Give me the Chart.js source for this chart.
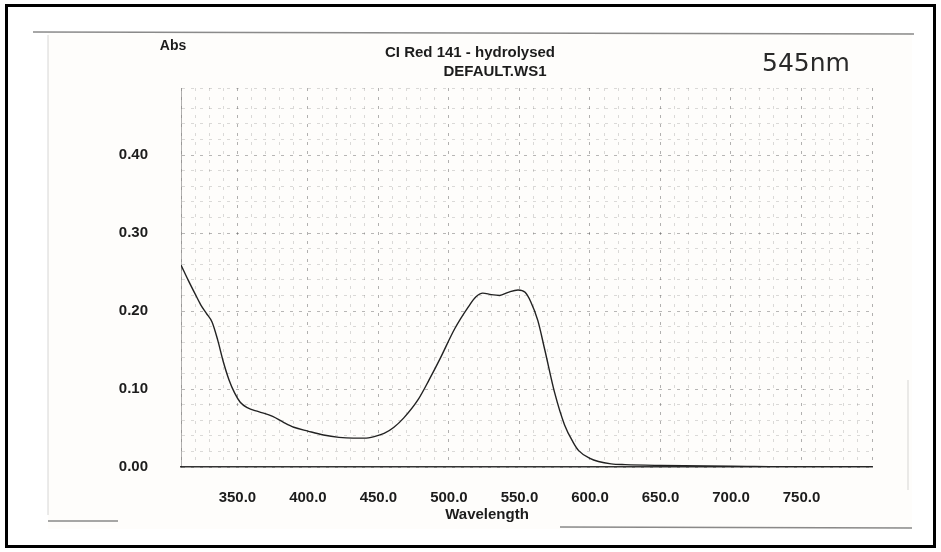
<!DOCTYPE html>
<html lang="en">
<head>
    <meta charset="UTF-8">
    <title>CI Red 141 - hydrolysed</title>
    <script src="https://cdn.jsdelivr.net/npm/chart.js"></script>
    <style>
        body { margin: 0; background: #fff; }
        canvas { display: block; }
    </style>
</head>
<body>
    <canvas id="specChart" width="941" height="552"></canvas>

    <script>
        // Spectrum data
        const wavelengths = [310, 315, 320, 324, 328, 332, 336, 340, 344, 348, 352, 357, 365, 375, 383, 390,
            400, 411, 422, 432, 440, 447, 454, 461, 468, 478, 486, 494, 504, 514, 519, 524, 530, 536, 542,
            549, 554, 558, 563, 568, 575, 582, 588, 592, 600, 606, 615, 625, 650, 700, 750, 800];
        const absorbance = [0.259, 0.240, 0.222, 0.208, 0.197, 0.186, 0.163, 0.135, 0.112, 0.095, 0.083,
            0.076, 0.071, 0.065, 0.057, 0.051, 0.046, 0.041, 0.038, 0.037, 0.037, 0.039, 0.043, 0.051,
            0.063, 0.086, 0.112, 0.140, 0.177, 0.206, 0.218, 0.223, 0.221, 0.220, 0.224, 0.227, 0.224,
            0.212, 0.188, 0.150, 0.095, 0.054, 0.032, 0.021, 0.011, 0.007, 0.004, 0.003, 0.002, 0.001,
            0.000, 0.000];
        const xLabelTicks = [350, 400, 450, 500, 550, 600, 650, 700, 750];
        const yLabelTicks = [0.0, 0.1, 0.2, 0.3, 0.4];

        const points = wavelengths.map((w, i) => ({ x: w, y: absorbance[i] }));

        // paper, scan edges, border and header texts
        const pagePlugin = {
            id: 'page',
            beforeDraw(chart) {
                const ctx = chart.ctx;
                ctx.save();
                ctx.fillStyle = '#ffffff';
                ctx.fillRect(0, 0, 941, 552);
                ctx.fillStyle = '#fefdfb';
                ctx.fillRect(48, 33, 864, 496);
                ctx.strokeStyle = 'rgba(60,60,60,0.6)';
                ctx.lineWidth = 1.5;
                ctx.beginPath();
                ctx.moveTo(33, 32); ctx.lineTo(914, 34);
                ctx.moveTo(48, 521); ctx.lineTo(118, 521);
                ctx.moveTo(560, 527); ctx.lineTo(912, 528);
                ctx.stroke();
                ctx.strokeStyle = 'rgba(120,120,120,0.3)';
                ctx.lineWidth = 1;
                ctx.beginPath();
                ctx.moveTo(48, 35); ctx.lineTo(48, 515);
                ctx.moveTo(908, 380); ctx.lineTo(908, 490);
                ctx.stroke();
                ctx.restore();
            },
            afterDraw(chart) {
                const ctx = chart.ctx;
                ctx.save();
                ctx.fillStyle = '#1c1c1c';
                ctx.textBaseline = 'middle';
                ctx.textAlign = 'center';
                ctx.font = 'bold 14px "Liberation Sans", Arial, sans-serif';
                ctx.fillText('Abs', 173, 46);
                ctx.font = 'bold 15px "Liberation Sans", Arial, sans-serif';
                ctx.fillText('CI Red 141 - hydrolysed', 470, 53);
                ctx.fillText('DEFAULT.WS1', 495, 72);
                ctx.fillText('Wavelength', 487, 515);
                ctx.fillStyle = '#2a2a2a';
                ctx.font = '25px "DejaVu Sans", sans-serif';
                ctx.fillText('545nm', 806, 64);
                // outer frame
                ctx.strokeStyle = '#000';
                ctx.lineWidth = 3;
                ctx.strokeRect(6.5, 5.5, 928, 541);
                ctx.restore();
            }
        };

        const isMajorX = v => v % 50 === 0;
        const isMajorY = v => Math.abs(v * 10 - Math.round(v * 10)) < 1e-6;

        new Chart(document.getElementById('specChart'), {
            type: 'line',
            data: {
                datasets: [{
                    data: points,
                    borderColor: '#222',
                    borderWidth: 1.4,
                    pointRadius: 0,
                    cubicInterpolationMode: 'monotone',
                    fill: false
                }]
            },
            plugins: [pagePlugin],
            options: {
                responsive: false,
                animation: false,
                layout: { padding: { left: 0, right: 69, top: 88, bottom: 24 } },
                plugins: {
                    legend: { display: false },
                    tooltip: { enabled: false }
                },
                scales: {
                    x: {
                        type: 'linear',
                        min: 310,
                        max: 800,
                        afterFit: s => { s.height = 61; },
                        ticks: {
                            stepSize: 10,
                            autoSkip: false,
                            maxRotation: 0,
                            padding: 22,
                            color: '#1c1c1c',
                            font: { family: '"Liberation Sans", Arial, sans-serif', size: 15, weight: 'bold' },
                            callback: v => xLabelTicks.includes(v) ? v.toFixed(1) : ''
                        },
                        grid: {
                            drawTicks: false,
                            color: c => isMajorX(c.tick.value) ? 'rgba(0,0,0,0.3)' : 'rgba(0,0,0,0.14)',
                            lineWidth: 1
                        },
                        border: { color: '#333', width: 1.5, dash: [3, 6] }
                    },
                    y: {
                        min: 0,
                        max: 0.486,
                        afterFit: s => { s.width = 181; },
                        ticks: {
                            stepSize: 0.02,
                            autoSkip: false,
                            padding: 33,
                            color: '#1c1c1c',
                            font: { family: '"Liberation Sans", Arial, sans-serif', size: 15, weight: 'bold' },
                            callback: v => (isMajorY(v) && yLabelTicks.some(t => Math.abs(t - v) < 1e-6)) ? v.toFixed(2) : ''
                        },
                        grid: {
                            drawTicks: false,
                            color: c => isMajorY(c.tick.value) ? 'rgba(0,0,0,0.28)' : 'rgba(0,0,0,0.14)',
                            lineWidth: 1
                        },
                        border: { color: 'rgba(0,0,0,0.3)', width: 1, dash: [3, 6] }
                    }
                }
            }
        });
    </script>
</body>
</html>
